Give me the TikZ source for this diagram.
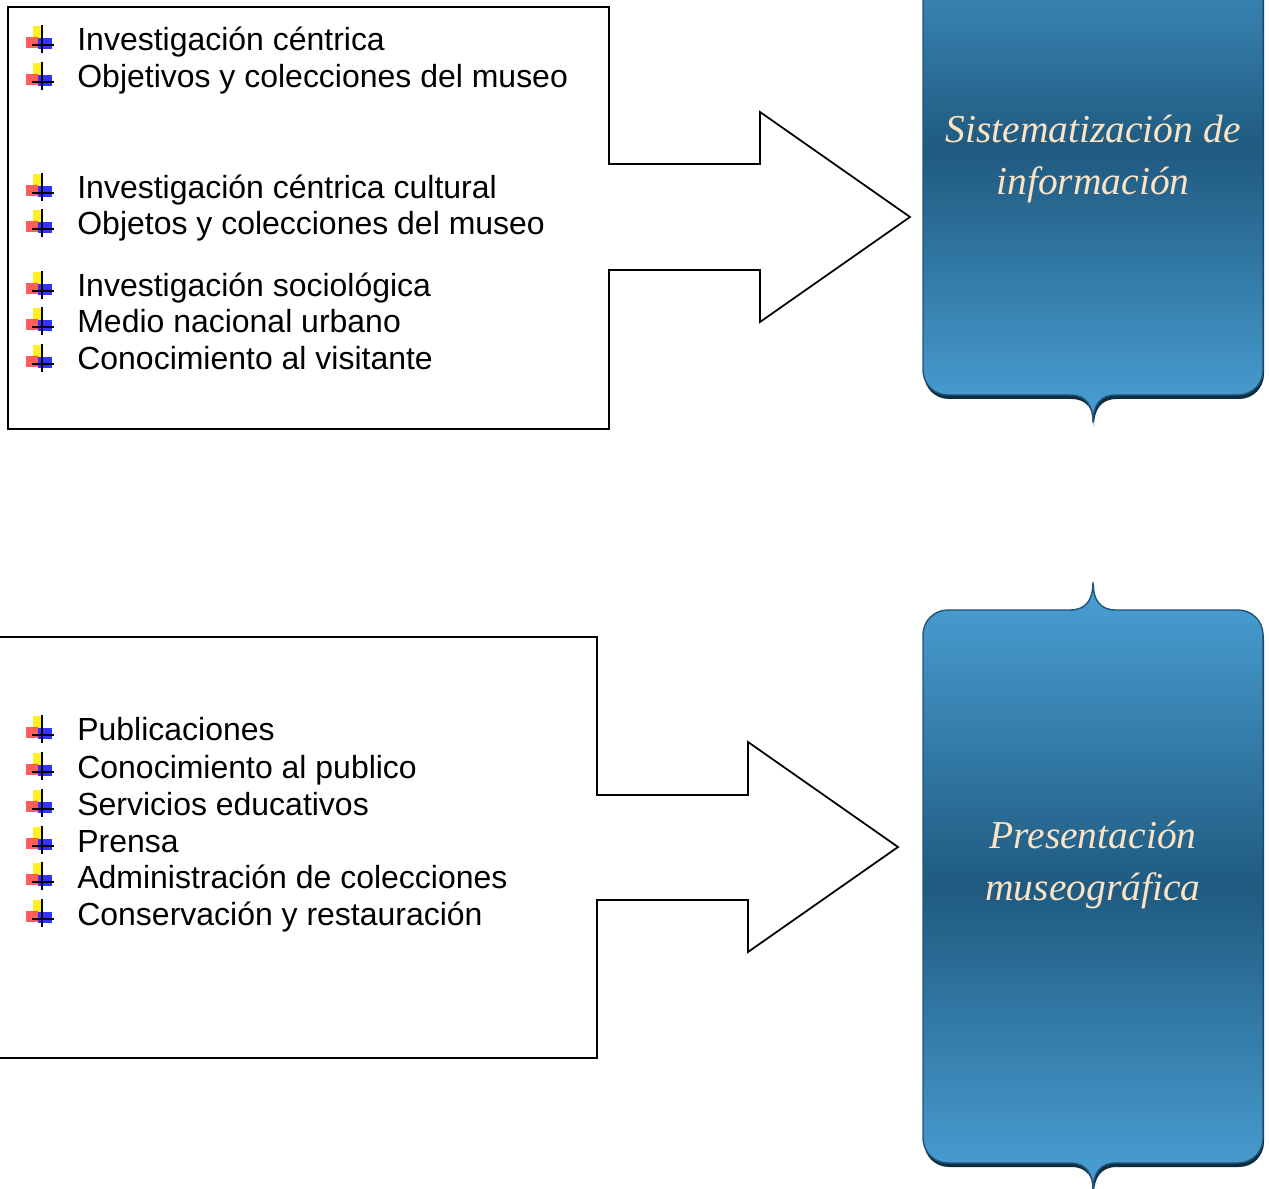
\documentclass[tikz,border=0pt]{standalone}
\usepackage{fontspec}
\setmainfont{Liberation Sans}
\newfontfamily\titlefont{Liberation Serif}
\usetikzlibrary{positioning}

\definecolor{panelLight}{HTML}{4BA1D6}
\definecolor{panelDark}{HTML}{1F5A80}
\definecolor{panelEdge}{HTML}{1E5578}
\definecolor{panelShadow}{HTML}{0E2D42}
\definecolor{panelText}{HTML}{FBE3C3}

% rounded panel with a cusp on top (#1) and bottom (#2) edge
\newcommand{\panelpath}[2]{(923,{#1+25}) .. controls (923,{#1+11}) and (934,#1) .. (948,#1) -- (1070,#1) .. controls (1086,#1) and (1093,{#1-10}) .. (1093,{#1-28}) .. controls (1093,{#1-10}) and (1100,#1) .. (1116,#1) -- (1238,#1) .. controls (1252,#1) and (1263,{#1+11}) .. (1263,{#1+25}) -- (1263,{#2-25}) .. controls (1263,{#2-11}) and (1252,#2) .. (1238,#2) -- (1116,#2) .. controls (1100,#2) and (1093,{#2+10}) .. (1093,{#2+28}) .. controls (1093,{#2+10}) and (1086,#2) .. (1070,#2) -- (948,#2) .. controls (934,#2) and (923,{#2-11}) .. (923,{#2-25}) -- cycle}

\tikzset{
  qbullet/.pic={
    \fill[yellow!95!orange, opacity=.85] (-9,-14) rectangle (0,-2);
    \fill[red!85, opacity=.75] (-16,-3) rectangle (-4,8);
    \fill[blue, opacity=.8] (-4,-2) rectangle (10,9);
    \draw[line width=1.2pt] (0,-15) -- (0,13) (-10,5) -- (12,5);
  }
}

\begin{document}
\begin{tikzpicture}[x=0.02cm, y=-0.02cm,
    callout/.style={draw=black, line width=1pt, fill=white},
    item/.style={anchor=base west, inner sep=0pt, font=\fontsize{18.2}{21}\selectfont},
    panel/.style={top color=panelLight, bottom color=panelLight, middle color=panelDark, draw=panelEdge, line width=0.8pt},
    paneltext/.style={align=center, text=panelText, font=\titlefont\itshape\fontsize{22.5}{29.6}\selectfont}]
    \useasboundingbox (0,0) rectangle (1269,1189);
    \clip (0,0) rectangle (1269,1189);

    % arrow callouts
    \draw[callout] (8,7) -- (609,7) -- (609,164) -- (760,164) -- (760,112) -- (910,217) -- (760,322) -- (760,270) -- (609,270) -- (609,429) -- (8,429) -- cycle;
    \draw[callout] (-5,637) -- (597,637) -- (597,795) -- (748,795) -- (748,742) -- (898,847) -- (748,952) -- (748,900) -- (597,900) -- (597,1058) -- (-5,1058) -- cycle;

    % panels
    \fill[panelShadow, shift={(1,4)}] \panelpath{-95}{395};
    \shade[panel] \panelpath{-95}{395};
    \fill[panelShadow, shift={(1,4)}] \panelpath{610}{1163};
    \shade[panel] \panelpath{610}{1163};

    \node[paneltext] (sistema) at (1093,159) {Sistematización de\\información};
    \node[paneltext] (presenta) at (1093,865) {Presentación\\museográfica};

    \foreach \c/\txt [count=\i] in {40/Investigación céntrica, 77/Objetivos y colecciones del museo, 188/Investigación céntrica cultural, 224/Objetos y colecciones del museo, 286/Investigación sociológica, 322/Medio nacional urbano, 359/Conocimiento al visitante}{
        \pic at (42,\c) {qbullet};
        \node[item] (inv\i) at (77,{\c+11}) {\txt};
    }
    \foreach \c/\txt [count=\i] in {730/Publicaciones, 767/Conocimiento al publico, 804/Servicios educativos, 841/Prensa, 877/Administración de colecciones, 914/Conservación y restauración}{
        \pic at (42,\c) {qbullet};
        \node[item] (pre\i) at (77,{\c+11}) {\txt};
    }
\end{tikzpicture}
\end{document}
